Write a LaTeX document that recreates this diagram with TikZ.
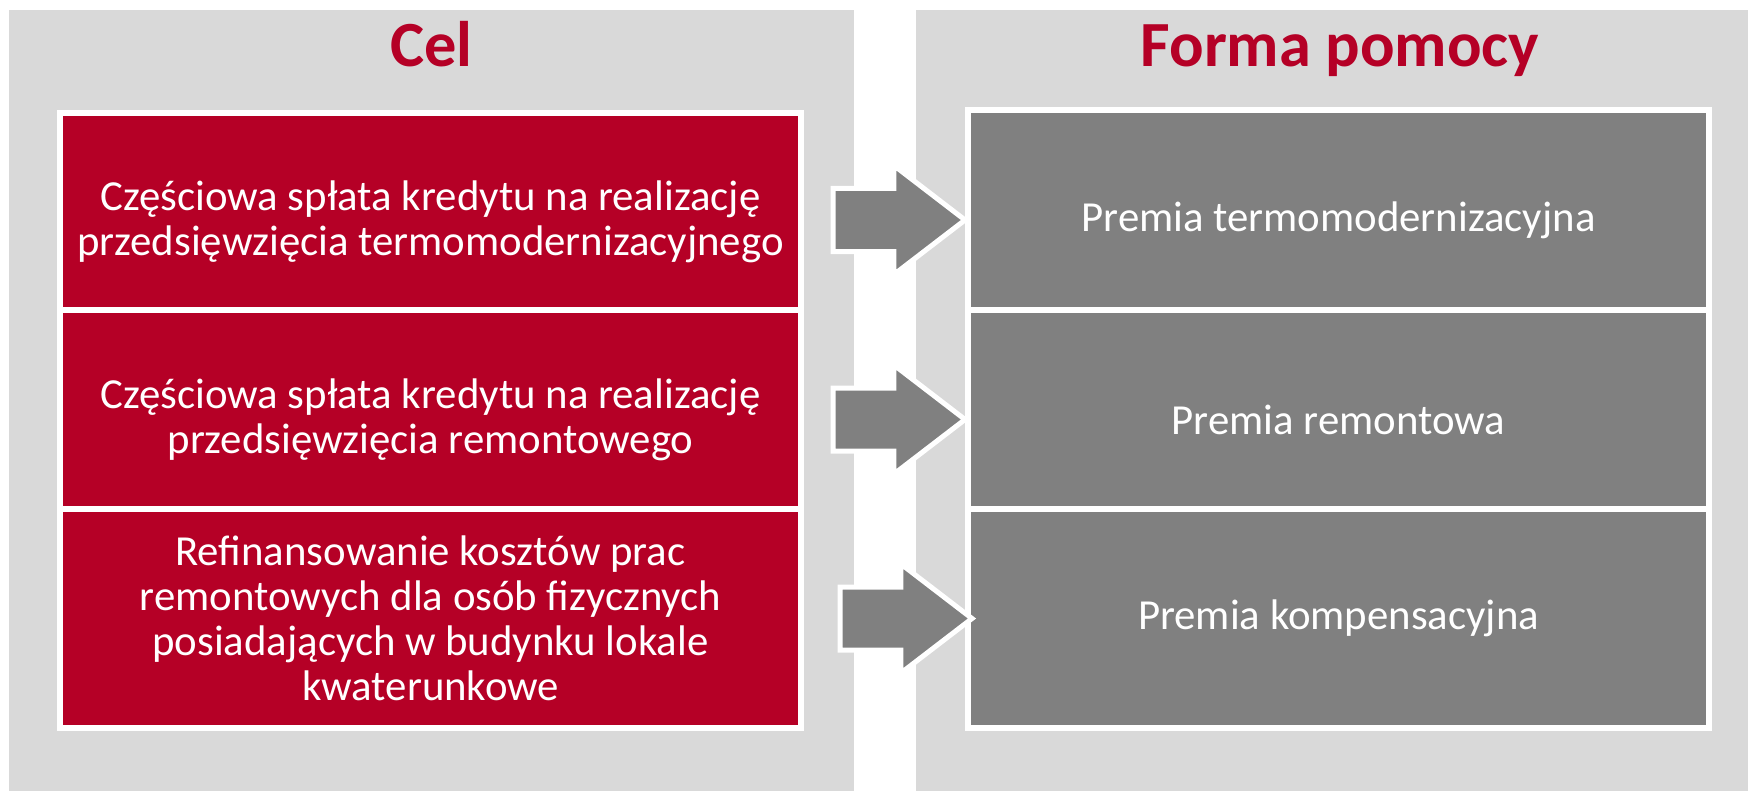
\documentclass[tikz,border=0pt]{standalone}
\usepackage{fontspec}
\setmainfont{Carlito}
\usetikzlibrary{shapes.arrows}
\definecolor{celred}{HTML}{B50026}
\definecolor{panelgray}{HTML}{D9D9D9}
\definecolor{boxgray}{HTML}{808080}

\begin{document}
\begin{tikzpicture}[x=0.5pt,y=-0.5pt,
		panel/.style={fill=panelgray},
		title/.style={anchor=base,text=celred,font=\fontsize{32.2}{40}\selectfont\bfseries},
		row/.style={draw=white,line width=3pt,minimum width=370.5pt,inner sep=0pt,outer sep=0pt,anchor=north west},
		celrow/.style={row,fill=celred},
		formrow/.style={row,fill=boxgray},
		txt/.style={text=white,align=center,font=\fontsize{21.4}{22.5}\selectfont},
		arr/.style={single arrow,fill=boxgray,draw=white,line width=2.5pt,minimum height=66pt,
			single arrow head extend=11.5pt,single arrow tip angle=75,inner xsep=0pt,inner ysep=14.5pt,outer sep=0pt,anchor=tip}]
				\useasboundingbox (0,0) rectangle (1748,791);
				\fill[panel] (9,10) rectangle (854,791);
				\fill[panel] (916,10) rectangle (1748,791);
				\node[title] (cel) at (431.5,67) {Cel};
				\node[title] (forma) at (1340,67) {Forma pomocy};

				\node[celrow,minimum height=98.5pt] (c1) at (60,113) {};
				\node[celrow,minimum height=99.5pt] (c2) at (c1.south west) {};
				\node[celrow,minimum height=109.5pt] (c3) at (c2.south west) {};
				\node[formrow,minimum height=100pt] (f1) at (968,110) {};
				\node[formrow,minimum height=99.5pt] (f2) at (f1.south west) {};
				\node[formrow,minimum height=109.5pt] (f3) at (f2.south west) {};

				\node[txt,yshift=-5pt] (tc1) at (c1) {Częściowa spłata kredytu na realizację\\przedsięwzięcia termomodernizacyjnego};
				\node[txt,yshift=-5pt] (tc2) at (c2) {Częściowa spłata kredytu na realizację\\przedsięwzięcia remontowego};
				\node[txt] (tc3) at (c3) {Refinansowanie kosztów prac\\remontowych dla osób fizycznych\\posiadających w budynku lokale\\kwaterunkowe};
				\node[txt,yshift=-5pt] (tf1) at (f1) {Premia termomodernizacyjna};
				\node[txt,yshift=-5pt] (tf2) at (f2) {Premia remontowa};
				\node[txt] (tf3) at (f3) {Premia kompensacyjna};

				\node[arr,xshift=-1.5pt] (a1) at (f1.west |- tf1) {};
				\node[arr,xshift=-1.5pt] (a2) at (f2.west |- tf2) {};
				\node[arr,xshift=2pt] (a3) at (f3.west |- tf3) {};
			\end{tikzpicture}
\end{document}
